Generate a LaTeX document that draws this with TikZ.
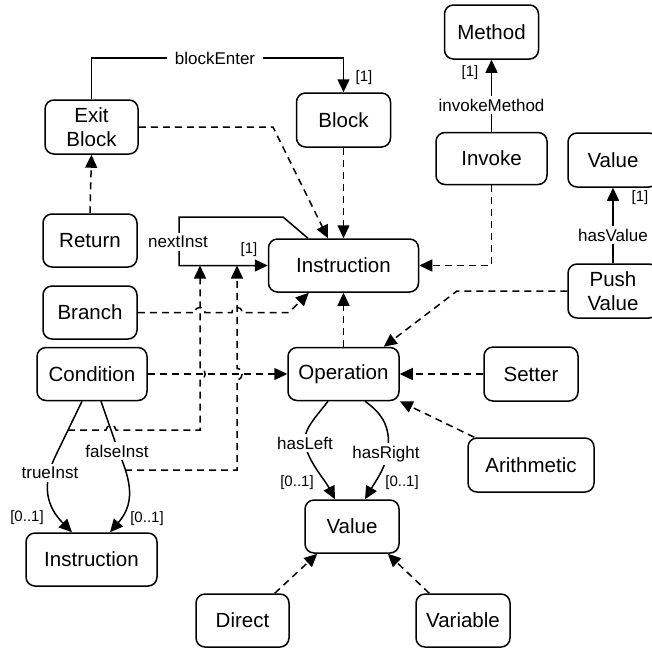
\documentclass[tikz,border=0pt]{standalone}
\usepackage{fontspec}
\setmainfont{Liberation Sans}
\usetikzlibrary{arrows.meta,calc}
\begin{document}
\begin{tikzpicture}[x=1pt,y=-1pt,
  box/.style={draw, line width=1.5pt, rounded corners=9pt, inner sep=0pt, align=center, font=\fontsize{20.5}{24}\selectfont},
  lbl/.style={font=\fontsize{17}{20}\selectfont, fill=white, inner xsep=8pt, inner ysep=3pt},
  lblv/.style={font=\fontsize{17}{20}\selectfont, fill=white, inner xsep=1pt, inner ysep=3pt},
  card/.style={font=\fontsize{15}{18}\selectfont, inner sep=0pt},
  assoc/.style={line width=1.5pt, -{Triangle[length=13pt,width=12pt]}},
  gen/.style={line width=1.5pt, dash pattern=on 7pt off 5pt, -{Triangle[length=13pt,width=12pt]}}]
\clip (0,0) rectangle (652,649);
% nodes
\node[box,minimum width=94pt,minimum height=54pt] (method) at (491.5,32) {Method};
\node[box,minimum width=94pt,minimum height=54pt] (block) at (343.5,120) {Block};
\node[box,minimum width=93pt,minimum height=54pt] (exit) at (91.5,127) {Exit\\Block};
\node[box,minimum width=111pt,minimum height=52pt] (invoke) at (491.5,158.5) {Invoke};
\node[box,minimum width=90pt,minimum height=54pt] (valtr) at (613,160) {Value};
\node[box,minimum width=90pt,minimum height=54pt] (push) at (613,291) {Push\\Value};
\node[box,minimum width=150pt,minimum height=53pt] (instr) at (343.5,265.5) {Instruction};
\node[box,minimum width=94pt,minimum height=53pt] (return) at (90,240.5) {Return};
\node[box,minimum width=94pt,minimum height=53pt] (branch) at (90,312.5) {Branch};
\node[box,minimum width=110pt,minimum height=53pt] (cond) at (92,374) {Condition};
\node[box,minimum width=131pt,minimum height=53pt] (instrb) at (91.5,559.5) {Instruction};
\node[box,minimum width=111pt,minimum height=53pt] (op) at (343.5,374) {Operation};
\node[box,minimum width=94pt,minimum height=54pt] (setter) at (531,374) {Setter};
\node[box,minimum width=126pt,minimum height=54pt] (arith) at (531,465) {Arithmetic};
\node[box,minimum width=94pt,minimum height=53pt] (valm) at (352,526.5) {Value};
\node[box,minimum width=93pt,minimum height=53pt] (direct) at (242.5,620.5) {Direct};
\node[box,minimum width=94pt,minimum height=53pt] (var) at (463,620.5) {Variable};
% blockEnter
\draw[assoc] (exit.north) |- (343.5,58) -- (block.north);
\node[lbl] (lEnter) at (215,58) {blockEnter};
\node[card] (cEnter) at (364,78) {[1]};
% generalisations
\draw[gen] (exit.east) -- (273,127) -- ($(instr.north)+(-15.5,0)$);
\draw[gen] (block.south) -- (instr.north);
\draw[gen] (invoke.south) |- (instr.east);
\draw[gen] (return.north) -- (exit.south);
\draw[gen] (push.west) -- (457,291) -- ($(op.north east)+(-16,0)$);
\draw[gen] (setter.west) -- (op.east);
\draw[gen] ($(arith.north west)+(7,0)$) -- (op.south east);
\draw[gen] (op.north) -- (instr.south);
\draw[gen] (cond.east) -- (op.west);
\draw[gen] (branch.east) -- (195,312.5) .. controls (195,305.5) and (205,305.5) .. (205,312.5)
  -- (232,312.5) .. controls (232,305.5) and (242,305.5) .. (242,312.5)
  -- (289,312.5) -- ($(instr.south west)+(41,0)$);
\draw[gen] ($(direct.north east)+(-15,0)$) -- ($(valm.south west)+(13,0)$);
\draw[gen] ($(var.north west)+(14,0)$) -- ($(valm.south east)+(-12,0)$);
% invokeMethod
\draw[assoc] (invoke.north) -- (method.south);
\node[lblv] (lInv) at (491.5,105) {invokeMethod};
\node[card] (cInv) at (470,73) {[1]};
% hasValue
\draw[assoc] (push.north) -- (valtr.south);
\node[lblv] (lHasV) at (613,235) {hasValue};
\node[card] (cHasV) at (640,198) {[1]};
% nextInst
\draw[assoc] ($(instr.north)+(-35.5,0)$) -- (283,217) -- (179,217) -- (179,265.5) -- (instr.west);
\node[lblv] (lNext) at (178,242) {nextInst};
\node[card] (cNext) at (249,250) {[1]};
% trueInst / falseInst
\draw[assoc] ($(cond.south)+(-10,0)$) -- (55,457) .. controls (42,485) and (46,506) .. ($(instrb.north)+(-19.5,0)$);
\node[lblv] (lTrue) at (50,473) {trueInst};
\node[card] (cTrue) at (27,518) {[0..1]};
\draw[assoc] ($(cond.south)+(9,0)$) -- (118,450) .. controls (128,475) and (138,500) .. ($(instrb.north)+(18.5,0)$);
\node[lblv] (lFalse) at (117,451) {falseInst};
\node[card] (cFalse) at (147,519) {[0..1]};
% dashed lines to nextInst
\coordinate (tA) at (68,430);
\coordinate (nA) at (200,265.5);
\coordinate (tB) at (125,470);
\coordinate (nB) at (237,265.5);
\draw[gen] (tA) -- (106,430) .. controls (106,424) and (116,424) .. (116,430) -- (200,430)
  -- (200,379.5) .. controls (207,379.5) and (207,368.5) .. (200,368.5) -- (nA);
\draw[gen] (tB) -- (237,470)
  -- (237,379.5) .. controls (244,379.5) and (244,368.5) .. (237,368.5) -- (nB);
% hasLeft / hasRight
\draw[assoc] ($(op.south)+(-15.5,0)$) .. controls (315,418) and (303,430) .. (305,443)
  .. controls (307,460) and (325,480) .. ($(valm.north)+(-17,0)$);
\node[lblv] (lLeft) at (305,443) {hasLeft};
\node[card] (cLeft) at (297,483) {[0..1]};
\draw[assoc] ($(op.south)+(21.5,0)$) .. controls (380,412) and (391,425) .. (388,450)
  .. controls (386,468) and (375,482) .. ($(valm.north)+(13,0)$);
\node[lblv] (lRight) at (386,454) {hasRight};
\node[card] (cRight) at (402,483) {[0..1]};
\end{tikzpicture}
\end{document}
